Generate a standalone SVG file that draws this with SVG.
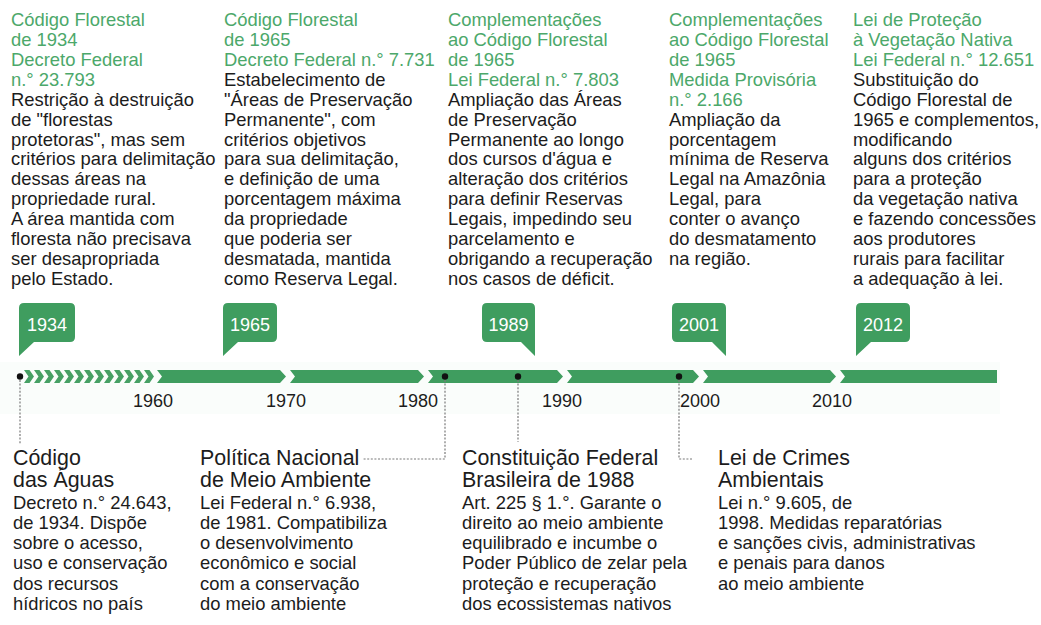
<svg xmlns="http://www.w3.org/2000/svg" width="1041" height="625" viewBox="0 0 1041 625">
<style>
text{font-family:"Liberation Sans",Arial,Helvetica,sans-serif;fill:#1c1c1c}
.b{font-size:18.4px}
.g{fill:#4ca86a}
.t{font-size:21.4px}
.yr{font-size:18px;fill:#ffffff;text-anchor:middle}
.dec{font-size:18px;text-anchor:middle}
.tag{fill:#3f9d5f}
.seg{fill:#3f9d5f}
.chev{fill:#46a064}
.dot{fill:#111}
.con{fill:none;stroke:#7a7a7a;stroke-width:1.2;stroke-dasharray:2 1.6}
</style>
<rect x="0" y="0" width="1041" height="625" fill="#ffffff"/>
<rect x="0" y="362" width="1000" height="52" fill="#fafdfb"/>

<g id="top-1934">
<text class="b" x="11" y="26">
<tspan class="g" x="11">Código Florestal</tspan>
<tspan class="g" x="11" dy="19.92">de 1934</tspan>
<tspan class="g" x="11" dy="19.92">Decreto Federal</tspan>
<tspan class="g" x="11" dy="19.92">n.° 23.793</tspan>
<tspan x="11" dy="19.92">Restrição à destruição</tspan>
<tspan x="11" dy="19.92">de "florestas</tspan>
<tspan x="11" dy="19.92">protetoras", mas sem</tspan>
<tspan x="11" dy="19.92">critérios para delimitação</tspan>
<tspan x="11" dy="19.92">dessas áreas na</tspan>
<tspan x="11" dy="19.92">propriedade rural.</tspan>
<tspan x="11" dy="19.92">A área mantida com</tspan>
<tspan x="11" dy="19.92">floresta não precisava</tspan>
<tspan x="11" dy="19.92">ser desapropriada</tspan>
<tspan x="11" dy="19.92">pelo Estado.</tspan>
</text>
</g>

<g id="top-1965">
<text class="b" x="224" y="26">
<tspan class="g" x="224">Código Florestal</tspan>
<tspan class="g" x="224" dy="19.92">de 1965</tspan>
<tspan class="g" x="224" dy="19.92">Decreto Federal n.° 7.731</tspan>
<tspan x="224" dy="19.92">Estabelecimento de</tspan>
<tspan x="224" dy="19.92">"Áreas de Preservação</tspan>
<tspan x="224" dy="19.92">Permanente", com</tspan>
<tspan x="224" dy="19.92">critérios objetivos</tspan>
<tspan x="224" dy="19.92">para sua delimitação,</tspan>
<tspan x="224" dy="19.92">e definição de uma</tspan>
<tspan x="224" dy="19.92">porcentagem máxima</tspan>
<tspan x="224" dy="19.92">da propriedade</tspan>
<tspan x="224" dy="19.92">que poderia ser</tspan>
<tspan x="224" dy="19.92">desmatada, mantida</tspan>
<tspan x="224" dy="19.92">como Reserva Legal.</tspan>
</text>
</g>

<g id="top-1989">
<text class="b" x="448" y="26">
<tspan class="g" x="448">Complementações</tspan>
<tspan class="g" x="448" dy="19.92">ao Código Florestal</tspan>
<tspan class="g" x="448" dy="19.92">de 1965</tspan>
<tspan class="g" x="448" dy="19.92">Lei Federal n.° 7.803</tspan>
<tspan x="448" dy="19.92">Ampliação das Áreas</tspan>
<tspan x="448" dy="19.92">de Preservação</tspan>
<tspan x="448" dy="19.92">Permanente ao longo</tspan>
<tspan x="448" dy="19.92">dos cursos d'água e</tspan>
<tspan x="448" dy="19.92">alteração dos critérios</tspan>
<tspan x="448" dy="19.92">para definir Reservas</tspan>
<tspan x="448" dy="19.92">Legais, impedindo seu</tspan>
<tspan x="448" dy="19.92">parcelamento e</tspan>
<tspan x="448" dy="19.92">obrigando a recuperação</tspan>
<tspan x="448" dy="19.92">nos casos de déficit.</tspan>
</text>
</g>

<g id="top-2001">
<text class="b" x="669" y="26">
<tspan class="g" x="669">Complementações</tspan>
<tspan class="g" x="669" dy="19.92">ao Código Florestal</tspan>
<tspan class="g" x="669" dy="19.92">de 1965</tspan>
<tspan class="g" x="669" dy="19.92">Medida Provisória</tspan>
<tspan class="g" x="669" dy="19.92">n.° 2.166</tspan>
<tspan x="669" dy="19.92">Ampliação da</tspan>
<tspan x="669" dy="19.92">porcentagem</tspan>
<tspan x="669" dy="19.92">mínima de Reserva</tspan>
<tspan x="669" dy="19.92">Legal na Amazônia</tspan>
<tspan x="669" dy="19.92">Legal, para</tspan>
<tspan x="669" dy="19.92">conter o avanço</tspan>
<tspan x="669" dy="19.92">do desmatamento</tspan>
<tspan x="669" dy="19.92">na região.</tspan>
</text>
</g>

<g id="top-2012">
<text class="b" x="853" y="26">
<tspan class="g" x="853">Lei de Proteção</tspan>
<tspan class="g" x="853" dy="19.92">à Vegetação Nativa</tspan>
<tspan class="g" x="853" dy="19.92">Lei Federal n.° 12.651</tspan>
<tspan x="853" dy="19.92">Substituição do</tspan>
<tspan x="853" dy="19.92">Código Florestal de</tspan>
<tspan x="853" dy="19.92">1965 e complementos,</tspan>
<tspan x="853" dy="19.92">modificando</tspan>
<tspan x="853" dy="19.92">alguns dos critérios</tspan>
<tspan x="853" dy="19.92">para a proteção</tspan>
<tspan x="853" dy="19.92">da vegetação nativa</tspan>
<tspan x="853" dy="19.92">e fazendo concessões</tspan>
<tspan x="853" dy="19.92">aos produtores</tspan>
<tspan x="853" dy="19.92">rurais para facilitar</tspan>
<tspan x="853" dy="19.92">a adequação à lei.</tspan>
</text>
</g>

<g id="timeline">
<g class="chev">
<path d="M24,370H29.5L34,376.5L29.5,383H24L28.5,376.5Z"/>
<path d="M34,370H39.5L44,376.5L39.5,383H34L38.5,376.5Z"/>
<path d="M44,370H49.5L54,376.5L49.5,383H44L48.5,376.5Z"/>
<path d="M54,370H59.5L64,376.5L59.5,383H54L58.5,376.5Z"/>
<path d="M64,370H69.5L74,376.5L69.5,383H64L68.5,376.5Z"/>
<path d="M74,370H79.5L84,376.5L79.5,383H74L78.5,376.5Z"/>
<path d="M84,370H89.5L94,376.5L89.5,383H84L88.5,376.5Z"/>
<path d="M94,370H99.5L104,376.5L99.5,383H94L98.5,376.5Z"/>
<path d="M104,370H109.5L114,376.5L109.5,383H104L108.5,376.5Z"/>
<path d="M114,370H119.5L124,376.5L119.5,383H114L118.5,376.5Z"/>
<path d="M124,370H129.5L134,376.5L129.5,383H124L128.5,376.5Z"/>
<path d="M134,370H139.5L144,376.5L139.5,383H134L138.5,376.5Z"/>
<path d="M144,370H149.5L154,376.5L149.5,383H144L148.5,376.5Z"/>
</g>
<path class="seg" d="M157,370H280L286,376.5L280,383H157L162,376.5Z"/>
<path class="seg" d="M290,370H418L424,376.5L418,383H290L295,376.5Z"/>
<path class="seg" d="M428,370H557L563,376.5L557,383H428L433,376.5Z"/>
<path class="seg" d="M567,370H693L699,376.5L693,383H567L572,376.5Z"/>
<path class="seg" d="M703,370H830L836,376.5L830,383H703L708,376.5Z"/>
<path class="seg" d="M840,370H997V383H840L845,376.5Z"/>
<text class="dec" x="153" y="407">1960</text>
<text class="dec" x="286" y="407">1970</text>
<text class="dec" x="418" y="407">1980</text>
<text class="dec" x="562" y="407">1990</text>
<text class="dec" x="700" y="407">2000</text>
<text class="dec" x="832" y="407">2010</text>
</g>

<g id="tag-1934">
<path class="tag" d="M24,303H70Q75,303 75,308V337Q75,342 70,342H34L19,356V308Q19,303 24,303Z"/>
<text class="yr" x="47" y="331">1934</text>
</g>
<g id="tag-1965">
<path class="tag" d="M228,303H272Q277,303 277,308V337Q277,342 272,342H238L223,356V308Q223,303 228,303Z"/>
<text class="yr" x="250" y="331">1965</text>
</g>
<g id="tag-1989">
<path class="tag" d="M487,303H530Q535,303 535,308V356L521,342H487Q482,342 482,337V308Q482,303 487,303Z"/>
<text class="yr" x="508.5" y="331">1989</text>
</g>
<g id="tag-2001">
<path class="tag" d="M677,303H721Q726,303 726,308V356L712,342H677Q672,342 672,337V308Q672,303 677,303Z"/>
<text class="yr" x="699" y="331">2001</text>
</g>
<g id="tag-2012">
<path class="tag" d="M861,303H905Q910,303 910,308V337Q910,342 905,342H871L856,356V308Q856,303 861,303Z"/>
<text class="yr" x="883" y="331">2012</text>
</g>

<g id="connectors">
<path class="con" d="M20,380V444"/>
<path class="con" d="M445,380V459H363"/>
<path class="con" d="M518,380V442"/>
<path class="con" d="M679,380V459H693"/>
</g>
<g id="dots">
<circle class="dot" cx="20" cy="376.5" r="3.2"/>
<circle class="dot" cx="445" cy="376.5" r="3.2"/>
<circle class="dot" cx="518" cy="376.5" r="3.2"/>
<circle class="dot" cx="679" cy="376.5" r="3.2"/>
</g>

<g id="bottom-aguas">
<text x="13" y="465">
<tspan class="t" x="13">Código</tspan>
<tspan class="t" x="13" dy="22">das Águas</tspan>
<tspan class="b" x="13" dy="21.5">Decreto n.° 24.643,</tspan>
<tspan class="b" x="13" dy="20.3">de 1934. Dispõe</tspan>
<tspan class="b" x="13" dy="20.3">sobre o acesso,</tspan>
<tspan class="b" x="13" dy="20.3">uso e conservação</tspan>
<tspan class="b" x="13" dy="20.3">dos recursos</tspan>
<tspan class="b" x="13" dy="20.3">hídricos no país</tspan>
</text>
</g>
<g id="bottom-pnma">
<text x="200" y="465">
<tspan class="t" x="200">Política Nacional</tspan>
<tspan class="t" x="200" dy="22">de Meio Ambiente</tspan>
<tspan class="b" x="200" dy="21.5">Lei Federal n.° 6.938,</tspan>
<tspan class="b" x="200" dy="20.3">de 1981. Compatibiliza</tspan>
<tspan class="b" x="200" dy="20.3">o desenvolvimento</tspan>
<tspan class="b" x="200" dy="20.3">econômico e social</tspan>
<tspan class="b" x="200" dy="20.3">com a conservação</tspan>
<tspan class="b" x="200" dy="20.3">do meio ambiente</tspan>
</text>
</g>
<g id="bottom-cf88">
<text x="462" y="465">
<tspan class="t" x="462">Constituição Federal</tspan>
<tspan class="t" x="462" dy="22">Brasileira de 1988</tspan>
<tspan class="b" x="462" dy="21.5">Art. 225 § 1.°. Garante o</tspan>
<tspan class="b" x="462" dy="20.3">direito ao meio ambiente</tspan>
<tspan class="b" x="462" dy="20.3">equilibrado e incumbe o</tspan>
<tspan class="b" x="462" dy="20.3">Poder Público de zelar pela</tspan>
<tspan class="b" x="462" dy="20.3">proteção e recuperação</tspan>
<tspan class="b" x="462" dy="20.3">dos ecossistemas nativos</tspan>
</text>
</g>
<g id="bottom-crimes">
<text x="718" y="465">
<tspan class="t" x="718">Lei de Crimes</tspan>
<tspan class="t" x="718" dy="22">Ambientais</tspan>
<tspan class="b" x="718" dy="21.5">Lei n.° 9.605, de</tspan>
<tspan class="b" x="718" dy="20.3">1998. Medidas reparatórias</tspan>
<tspan class="b" x="718" dy="20.3">e sanções civis, administrativas</tspan>
<tspan class="b" x="718" dy="20.3">e penais para danos</tspan>
<tspan class="b" x="718" dy="20.3">ao meio ambiente</tspan>
</text>
</g>
</svg>
